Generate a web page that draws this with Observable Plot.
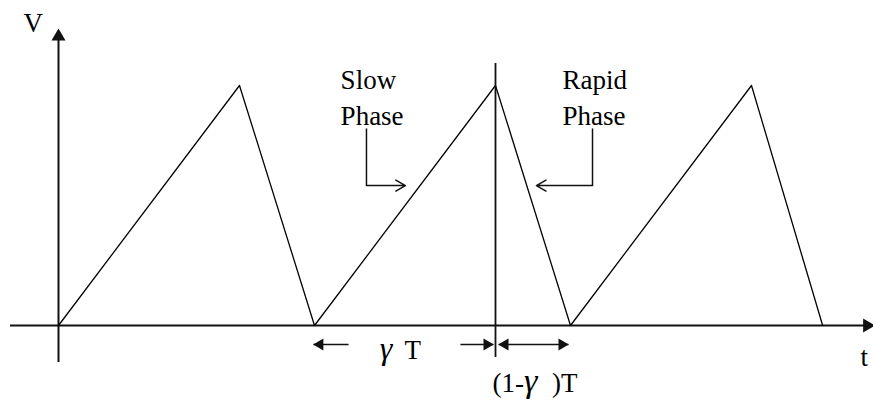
<!DOCTYPE html>
<html>
<head>
<meta charset="utf-8">
<script src="https://cdn.jsdelivr.net/npm/d3@7"></script>
<script src="https://cdn.jsdelivr.net/npm/@observablehq/plot@0.6"></script>
<style>
  html, body { margin: 0; padding: 0; background: #fff; font-family: "Liberation Serif"; }
</style>
</head>
<body>
<div id="chart"></div>
<script>
// ---- data (time in units of T, voltage in units of peak) ----
const cycleTimes = [0, 0.707, 1, 1.707, 2, 2.707, 2.985];
const voltage    = [0, 1, 0, 1, 0, 1, 0];

const boundaryTime = 1.707;            // vertical marker at a peak
const boundarySpan = [-0.133, 1.092];  // its vertical extent

const xAxisSpan = [-0.1875, 3.16];     // horizontal axis extent (t)
const yAxisSpan = [-0.154, 1.21];      // vertical axis extent (V)
const xAxisTip = 3.19;
const yAxisTip = 1.2375;

const phaseLabels  = ["Slow\nPhase", "Rapid\nPhase"];
const phaseLabelX  = [1.102, 1.969];
const phaseLabelY  = 0.8375;
const pointerStemX = [1.203, 2.086];
const pointerEndX  = [1.355, 1.867];
const pointerTop   = 0.821;
const pointerBend  = 0.583;

const spanY = -0.079;                  // level of the duration arrows
const spanFrom = [1.133, 1.570, 1.719];
const spanTo   = [0.996, 1.699, 1.992];
const headsLeft  = [0.996, 1.719];
const headsRight = [1.699, 1.992];

const axisNames = ["V", "t"];
const axisNameX = [-0.137, 3.133];
const axisNameY = [1.221, -0.1667];

// ---- tables built from the arrays ----
const wave = cycleTimes.map((t, i) => ({t, v: voltage[i]}));
const pointers = phaseLabels.map((label, i) => ({
  label, lx: phaseLabelX[i], sx: pointerStemX[i], ex: pointerEndX[i]
}));
const spans = spanFrom.map((a, i) => ({a, b: spanTo[i]}));
const names = axisNames.map((n, i) => ({n, x: axisNameX[i], y: axisNameY[i]}));

const ink = "#111";
const fam = "Liberation Serif";

const chart = Plot.plot({
  width: 873,
  height: 403,
  margin: 0,
  x: {domain: [-58 / 256, 815 / 256], axis: null},
  y: {domain: [-78 / 240, 325 / 240], axis: null},
  marks: [
    // axes
    Plot.ruleY([0], {x1: xAxisSpan[0], x2: xAxisSpan[1], stroke: ink, strokeWidth: 2}),
    Plot.ruleX([0], {y1: yAxisSpan[0], y2: yAxisSpan[1], stroke: ink, strokeWidth: 2}),
    Plot.dot([xAxisTip], {x: d => d, y: 0, symbol: "triangle", r: 5.2, rotate: 90, dx: -8, fill: ink, stroke: null}),
    Plot.dot([yAxisTip], {x: 0, y: d => d, symbol: "triangle", r: 5.2, dy: 8, fill: ink, stroke: null}),
    // sawtooth
    Plot.line(wave, {x: "t", y: "v", stroke: "#000", strokeWidth: 1.3}),
    // boundary marker
    Plot.ruleX([boundaryTime], {y1: boundarySpan[0], y2: boundarySpan[1], stroke: ink, strokeWidth: 1.8}),
    // phase pointers
    Plot.link(pointers, {x1: "sx", x2: "sx", y1: pointerTop, y2: pointerBend, stroke: ink, strokeWidth: 1.5}),
    Plot.arrow(pointers, {x1: "sx", y1: pointerBend, x2: "ex", y2: pointerBend, stroke: ink, strokeWidth: 1.5, headLength: 11, headAngle: 60}),
    Plot.text(pointers, {x: "lx", y: phaseLabelY, text: "label", textAnchor: "start", lineAnchor: "bottom", lineHeight: 1.333, fontFamily: fam, fontSize: 27}),
    // duration arrows
    Plot.link(spans, {x1: "a", x2: "b", y1: spanY, y2: spanY, stroke: ink, strokeWidth: 1.5}),
    Plot.dot(headsLeft, {x: d => d, y: spanY, symbol: "triangle", r: 4.4, rotate: -90, dx: 6.5, fill: ink, stroke: null}),
    Plot.dot(headsRight, {x: d => d, y: spanY, symbol: "triangle", r: 4.4, rotate: 90, dx: -6.5, fill: ink, stroke: null}),
    // duration labels
    Plot.text(["γ"], {x: 1.255, y: -0.1375, text: d => d, textAnchor: "start", lineAnchor: "bottom", fontStyle: "italic", fontFamily: fam, fontSize: 32}),
    Plot.text(["T"], {x: 1.352, y: -0.1375, text: d => d, textAnchor: "start", lineAnchor: "bottom", fontFamily: fam, fontSize: 27}),
    Plot.text(["(1-"], {x: 1.695, y: -0.279, text: d => d, textAnchor: "start", lineAnchor: "bottom", fontFamily: fam, fontSize: 27}),
    Plot.text(["γ"], {x: 1.818, y: -0.279, text: d => d, textAnchor: "start", lineAnchor: "bottom", fontStyle: "italic", fontFamily: fam, fontSize: 34}),
    Plot.text([")T"], {x: 1.928, y: -0.279, text: d => d, textAnchor: "start", lineAnchor: "bottom", fontFamily: fam, fontSize: 27}),
    // axis names
    Plot.text(names, {x: "x", y: "y", text: "n", textAnchor: "start", lineAnchor: "bottom", fontFamily: fam, fontSize: 27})
  ]
});

document.getElementById("chart").append(chart);
chart.querySelectorAll("text").forEach(t => {
  t.style.fontFamily = "'Liberation Serif'";
  t.getBBox();
});
</script>
</body>
</html>
